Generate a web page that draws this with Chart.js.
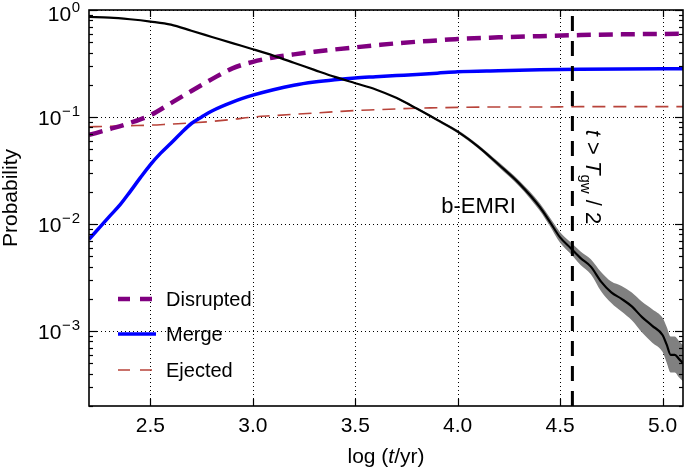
<!DOCTYPE html>
<html>
<head>
<meta charset="utf-8">
<script src="https://cdn.jsdelivr.net/npm/chart.js@4.4.1/dist/chart.umd.min.js"></script>
<style>
  html, body { margin: 0; padding: 0; background: #fff; }
  #wrap { width: 685px; height: 470px; }
</style>
</head>
<body>
<div id="wrap"><canvas id="c" width="685" height="470"></canvas></div>
<script>
// outcome probabilities vs log(t/yr)

const logT      = [2.2, 2.3, 2.4, 2.5, 2.6, 2.7, 2.8, 2.9, 3.0, 3.1, 3.2, 3.3, 3.4, 3.5, 3.6, 3.7, 3.8, 3.9, 4.0, 4.2, 4.4, 4.6, 4.8, 5.0, 5.1];
const disrupted = [0.068, 0.077, 0.088, 0.104, 0.135, 0.175, 0.226, 0.285, 0.328, 0.36, 0.385, 0.407, 0.428, 0.448, 0.468, 0.488, 0.505, 0.52, 0.536, 0.555, 0.57, 0.583, 0.592, 0.598, 0.6];
const ejected   = [0.081, 0.082, 0.083, 0.084, 0.086, 0.088, 0.091, 0.095, 0.100, 0.103, 0.106, 0.109, 0.112, 0.115, 0.117, 0.119, 0.121, 0.122, 0.123, 0.124, 0.124, 0.125, 0.125, 0.125, 0.125];

const mergeT = [2.2, 2.25, 2.3, 2.35, 2.4, 2.45, 2.5, 2.55, 2.6, 2.65, 2.7, 2.75, 2.8, 2.9, 3.0, 3.1, 3.2, 3.3, 3.4, 3.5, 3.6, 3.7, 3.8, 3.9, 4.0, 4.2, 4.4, 4.6, 4.8, 5.0, 5.1];
const merge  = [0.0072, 0.0092, 0.0118, 0.015, 0.02, 0.027, 0.036, 0.046, 0.057, 0.071, 0.087, 0.1, 0.114, 0.138, 0.16, 0.18, 0.198, 0.212, 0.223, 0.232, 0.238, 0.244, 0.25, 0.257, 0.265, 0.271, 0.276, 0.279, 0.281, 0.282, 0.282];

const emriT = [2.2, 2.3, 2.4, 2.5, 2.6, 2.7, 2.8, 2.9, 3.0, 3.1, 3.2, 3.3, 3.4, 3.5, 3.6, 3.7, 3.8, 3.9, 4.0, 4.1, 4.2, 4.3, 4.4, 4.45, 4.5, 4.55, 4.6, 4.65, 4.7, 4.75, 4.8, 4.85, 4.9, 4.95, 5.0, 5.02, 5.04, 5.06, 5.08, 5.1];
const emri  = [0.86, 0.85, 0.82, 0.78, 0.73, 0.64, 0.56, 0.49, 0.43, 0.375, 0.322, 0.276, 0.237, 0.207, 0.181, 0.151, 0.12, 0.094, 0.073, 0.053, 0.036, 0.024, 0.0145, 0.0105, 0.0075, 0.006, 0.0048, 0.004, 0.0029, 0.0023, 0.002, 0.0017, 0.00135, 0.00112, 0.00092, 0.00075, 0.0006, 0.0006, 0.00055, 0.0005];

// grey uncertainty band around b-EMRI
const bandT   = [3.7, 3.8, 3.9, 4.0, 4.1, 4.2, 4.3, 4.4, 4.45, 4.5, 4.55, 4.6, 4.65, 4.7, 4.75, 4.8, 4.85, 4.9, 4.95, 5.0, 5.02, 5.04, 5.06, 5.08, 5.1];
const emriHi  = [0.154, 0.1228, 0.0966, 0.0756, 0.0552, 0.0379, 0.0255, 0.0157, 0.0115, 0.0084, 0.0068, 0.00555, 0.0047, 0.00357, 0.0029, 0.00264, 0.00229, 0.00188, 0.0016, 0.00133, 0.0011, 0.00089, 0.00089, 0.00081, 0.00074];
const emriLo  = [0.148, 0.1173, 0.0914, 0.0705, 0.0509, 0.0342, 0.0226, 0.0134, 0.0096, 0.0067, 0.0053, 0.00415, 0.0034, 0.00236, 0.00183, 0.00152, 0.00126, 0.00097, 0.00078, 0.00064, 0.00051, 0.00041, 0.00041, 0.00037, 0.00034];

const tgwHalf = 4.56;           // t > T_gw / 2 marker
const xTicks = [2.5, 3.0, 3.5, 4.0, 4.5, 5.0];
const yExp   = [0, -1, -2, -3];
const X_MIN = 2.2, X_MAX = 5.1;
const Y_MIN = Math.pow(10, -3.7), Y_MAX = 1;

const FONT = '"Liberation Sans", Arial, Helvetica, sans-serif';
const PURPLE = '#800080', BLUE = '#0000ff', BROWN = '#b8433a', GREY = '#808080';

function pts(xs, ys){ return xs.map((x, i) => ({ x: x, y: ys[i] })); }

function hline(ctx, x1, x2, y){ ctx.beginPath(); ctx.moveTo(x1, y); ctx.lineTo(x2, y); ctx.stroke(); }
function vline(ctx, x, y1, y2){ ctx.beginPath(); ctx.moveTo(x, y1); ctx.lineTo(x, y2); ctx.stroke(); }

// draws a run of [text, font, dy] pieces one after another
function drawRun(ctx, x, y, pieces){
  pieces.forEach(([txt, font, dy]) => {
    ctx.font = font;
    ctx.fillText(txt, x, y + (dy || 0));
    x += ctx.measureText(txt).width;
  });
}

const decor = {
  id: 'decor',
  beforeDatasetsDraw(chart){
    const { ctx, chartArea: a, scales: { x, y } } = chart;
    ctx.save();
    ctx.strokeStyle = '#000';
    ctx.lineWidth = 1;
    ctx.setLineDash([1, 3]);
    xTicks.forEach(v => {
      const px = Math.round(x.getPixelForValue(v)) + 0.5;
      vline(ctx, px, a.top, a.bottom);
    });
    yExp.forEach(e => {
      const py = Math.round(y.getPixelForValue(Math.pow(10, e))) + 0.5;
      hline(ctx, a.left, a.right, py);
    });
    ctx.restore();
  },
  afterDraw(chart){
    const { ctx, chartArea: a, scales: { x, y } } = chart;
    ctx.save();
    ctx.strokeStyle = '#000';
    ctx.fillStyle = '#000';
    ctx.setLineDash([]);

    // frame
    ctx.lineWidth = 1.6;
    ctx.strokeRect(a.left, a.top, a.right - a.left, a.bottom - a.top);

    // inward ticks
    ctx.lineWidth = 1.2;
    xTicks.forEach(v => {
      const px = Math.round(x.getPixelForValue(v)) + 0.5;
      vline(ctx, px, a.bottom, a.bottom - 7);
      vline(ctx, px, a.top, a.top + 7);
    });
    for (let d = -4; d <= 0; d++){
      for (let m = 1; m <= 9; m++){
        const v = m * Math.pow(10, d);
        if (v < Y_MIN || v > Y_MAX) continue;
        const py = Math.round(y.getPixelForValue(v)) + 0.5;
        const len = m === 1 ? 8 : 4;
        hline(ctx, a.left, a.left + len, py);
        hline(ctx, a.right - len, a.right, py);
      }
    }

    // x tick labels
    ctx.font = '21px ' + FONT;
    ctx.textAlign = 'center';
    ctx.textBaseline = 'alphabetic';
    xTicks.forEach(v => ctx.fillText(v.toFixed(1), x.getPixelForValue(v), a.bottom + 26));

    // y tick labels 10^e
    const right = a.left - 9;
    ctx.textAlign = 'left';
    yExp.forEach(e => {
      const py = y.getPixelForValue(Math.pow(10, e)) + (e === 0 ? 3 : 0);
      const sup = e === 0 ? '0' : '\u2212' + (-e);
      ctx.font = '15px ' + FONT;
      const sw = ctx.measureText(sup).width + (e === 0 ? 0 : 1);
      if (e === 0) ctx.fillText(sup, right - sw, py - 1);
      else {
        ctx.fillText('\u2212', right - sw, py - 1);
        ctx.fillText(String(-e), right - ctx.measureText(String(-e)).width, py - 1);
      }
      ctx.font = '21px ' + FONT;
      const bw = ctx.measureText('10').width;
      ctx.fillText('10', right - sw - bw - 0.5, py + 7.5);
    });

    // axis titles
    const f = '21px ' + FONT, fi = 'italic 21px ' + FONT;
    const parts = [['log (', f], ['t', fi], ['/yr)', f]];
    let w = 0;
    parts.forEach(([t, ff]) => { ctx.font = ff; w += ctx.measureText(t).width; });
    drawRun(ctx, (a.left + a.right) / 2 - w / 2, 463, parts);

    ctx.save();
    ctx.translate(17, 198);
    ctx.rotate(-Math.PI / 2);
    ctx.font = f;
    ctx.textAlign = 'center';
    ctx.fillText('Probability', 0, 0);
    ctx.restore();

    // b-EMRI label
    ctx.font = '22px ' + FONT;
    ctx.textAlign = 'left';
    ctx.fillText('b-EMRI', x.getPixelForValue(3.92), y.getPixelForValue(0.0127));

    // t > T_gw / 2, rotated clockwise next to the dashed line
    ctx.save();
    ctx.translate(x.getPixelForValue(tgwHalf) + 14, y.getPixelForValue(0.076));
    ctx.rotate(Math.PI / 2);
    const fs = '15px ' + FONT;
    drawRun(ctx, 0, 0, [
      ['t', 'italic 22px ' + FONT], [' > ', '22px ' + FONT], ['T', 'italic 22px ' + FONT],
      ['gw', fs, 5], [' / 2', '22px ' + FONT]
    ]);
    ctx.restore();

    // legend
    const rows = [
      ['Disrupted', PURPLE, 4.5, [12, 10]],
      ['Merge', BLUE, 3.5, []],
      ['Ejected', BROWN, 1.6, [12, 10]]
    ];
    const lx = 118, ly = [299, 334, 370];
    rows.forEach(([label, col, lw, dash], i) => {
      ctx.strokeStyle = col;
      ctx.lineWidth = lw;
      ctx.setLineDash(dash);
      hline(ctx, lx, lx + (dash.length ? 34 : 38), ly[i]);
      ctx.setLineDash([]);
      ctx.fillStyle = '#000';
      ctx.font = '20px ' + FONT;
      ctx.textBaseline = 'middle';
      ctx.fillText(label, 166, ly[i] + 1);
      ctx.textBaseline = 'alphabetic';
    });
    ctx.restore();
  }
};

const common = { pointRadius: 0, pointHoverRadius: 0, cubicInterpolationMode: 'monotone', fill: false };

new Chart(document.getElementById('c'), {
  type: 'line',
  data: {
    datasets: [
      Object.assign({}, common, { label: 'b-EMRI', data: pts(emriT, emri), borderColor: '#000', borderWidth: 2.2, order: 0 }),
      Object.assign({}, common, { label: 'tgw', data: [{ x: tgwHalf, y: Y_MIN }, { x: tgwHalf, y: Y_MAX }], borderColor: '#000', borderWidth: 3, borderDash: [15, 10], cubicInterpolationMode: 'default', order: 1 }),
      Object.assign({}, common, { label: 'Merge', data: pts(mergeT, merge), borderColor: BLUE, borderWidth: 3.5, order: 2 }),
      Object.assign({}, common, { label: 'Disrupted', data: pts(logT, disrupted), borderColor: PURPLE, borderWidth: 4.5, borderDash: [14, 8], order: 3 }),
      Object.assign({}, common, { label: 'Ejected', data: pts(logT, ejected), borderColor: BROWN, borderWidth: 1.6, borderDash: [13, 8], order: 4 }),
      Object.assign({}, common, { label: 'hi', data: pts(bandT, emriHi), borderWidth: 0, borderColor: GREY, backgroundColor: GREY, fill: '+1', order: 5 }),
      Object.assign({}, common, { label: 'lo', data: pts(bandT, emriLo), borderWidth: 0, borderColor: GREY, backgroundColor: GREY, order: 6 })
    ]
  },
  options: {
    responsive: false,
    animation: false,
    devicePixelRatio: 1,
    events: [],
    layout: { padding: { left: 89, right: 2, top: 10, bottom: 64 } },
    plugins: { legend: { display: false }, tooltip: { enabled: false } },
    scales: {
      x: { type: 'linear', min: X_MIN, max: X_MAX, display: false },
      y: { type: 'logarithmic', min: Y_MIN, max: Y_MAX, display: false }
    }
  },
  plugins: [decor]
});
</script>
</body>
</html>
